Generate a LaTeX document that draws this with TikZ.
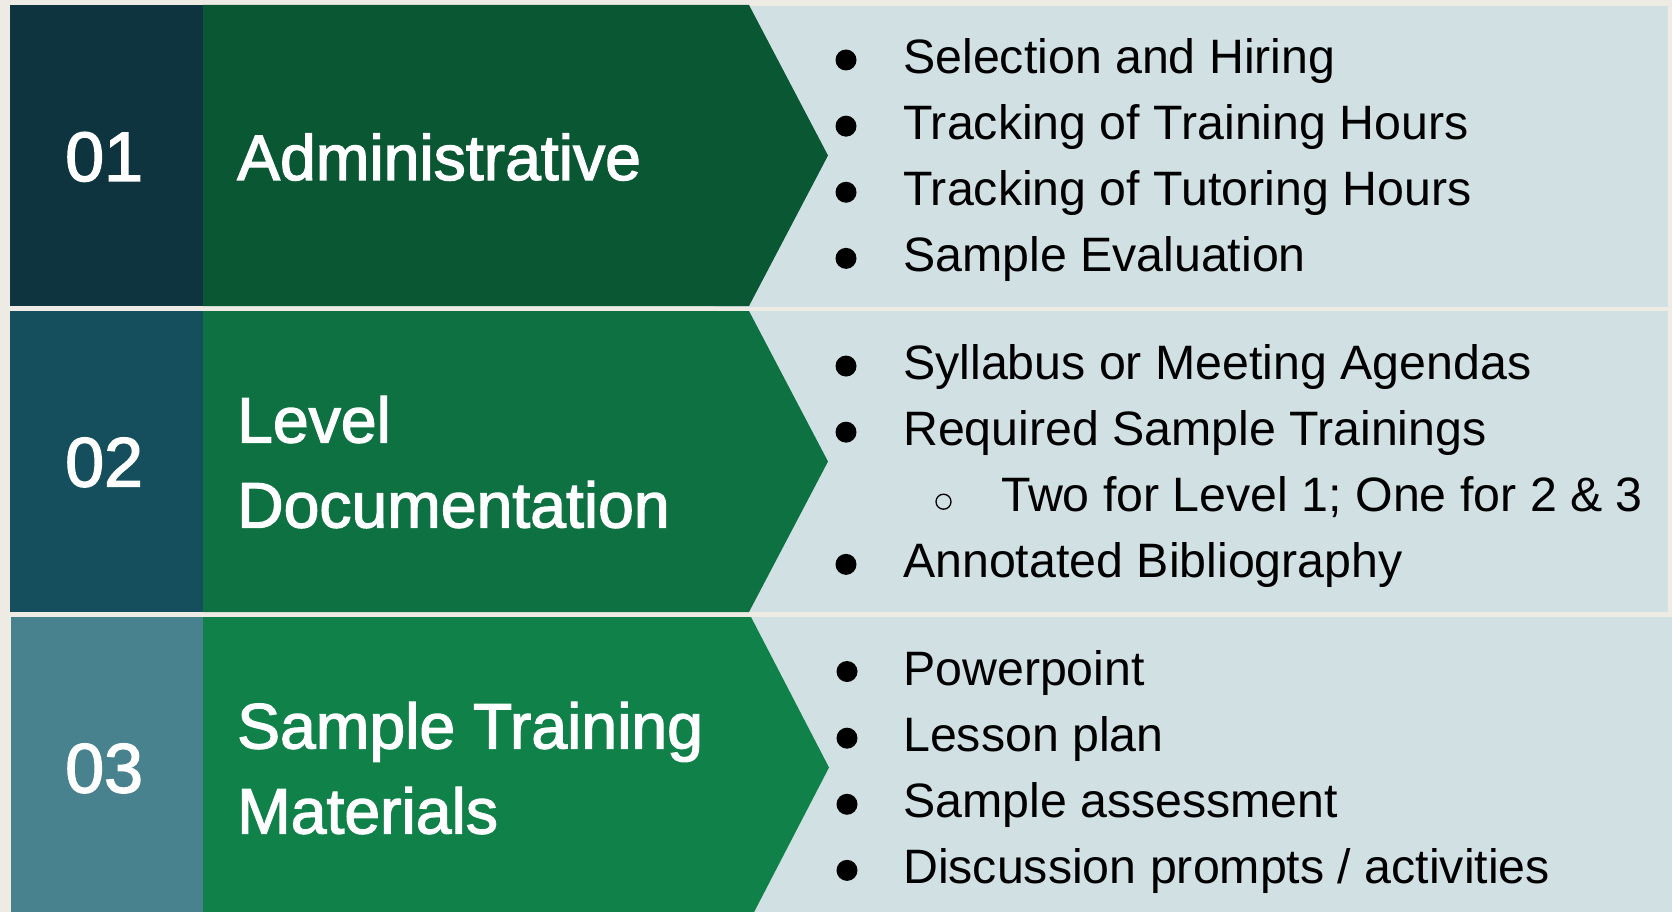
\documentclass[tikz,border=0pt]{standalone}
\usepackage{fontspec}
\setmainfont{Liberation Sans}
\newfontfamily\headfont[RawFeature={embolden=2}]{Liberation Sans}
\definecolor{bgbeige}{HTML}{EEEBE5}
\definecolor{numA}{HTML}{0E3440}
\definecolor{numB}{HTML}{154F5E}
\definecolor{numC}{HTML}{47828E}
\definecolor{grnA}{HTML}{0A5734}
\definecolor{grnB}{HTML}{0D7142}
\definecolor{grnC}{HTML}{0F8149}
\definecolor{listbg}{HTML}{D1E0E3}
\tikzset{
  numtext/.style={anchor=base west, inner sep=0pt, text=white, font=\headfont\fontsize{70}{70}\selectfont},
  headtext/.style={anchor=base west, inner sep=0pt, text=white, font=\headfont\fontsize{64.3}{85}\selectfont},
  itemtext/.style={anchor=base west, inner sep=0pt, text=black, font=\fontsize{48.3}{66}\selectfont},
  dotmark/.style={circle, fill=black, inner sep=0pt, minimum size=21pt},
  ringmark/.style={circle, draw=black, line width=1.3pt, inner sep=0pt, minimum size=15pt},
}
\begin{document}
\begin{tikzpicture}[x=1pt,y=-1pt]
\useasboundingbox[fill=bgbeige] (0,0) rectangle (1672,912);
\clip (0,0) rectangle (1672,912);

% ---- row 01 ----
\fill[listbg] (715,6) rectangle (1668,307);
\fill[numA] (10,5) rectangle (203,306);
\fill[grnA] (203,5) -- (749,5) -- (828,155.5) -- (749,306) -- (203,306) -- cycle;
\node[numtext] (n1) at (65,181) {01};
\node[headtext] (h1) at (237,180) {Administrative};
\node[dotmark] (b11) at (846,60) {};
\node[itemtext] (t11) at (903,73.05) {Selection and Hiring};
\node[dotmark] (b12) at (846,126.15) {};
\node[itemtext] (t12) at (903,139.15) {Tracking of Training Hours};
\node[dotmark] (b13) at (846,192.25) {};
\node[itemtext] (t13) at (903,205.25) {Tracking of Tutoring Hours};
\node[dotmark] (b14) at (846,258.35) {};
\node[itemtext] (t14) at (903,271.35) {Sample Evaluation};

% ---- row 02 ----
\fill[listbg] (715,311) rectangle (1668,612);
\fill[numB] (10,311) rectangle (203,612);
\fill[grnB] (203,311) -- (749,311) -- (828,461.5) -- (749,612) -- (203,612) -- cycle;
\node[numtext] (n2) at (65,486.5) {02};
\node[headtext] (h2a) at (237,442.5) {Level};
\node[headtext] (h2b) at (237,527.5) {Documentation};
\node[dotmark] (b21) at (846,366.05) {};
\node[itemtext] (t21) at (903,379.05) {Syllabus or Meeting Agendas};
\node[dotmark] (b22) at (846,432.15) {};
\node[itemtext] (t22) at (903,445.15) {Required Sample Trainings};
\node[ringmark] (b23) at (943.5,501.7) {};
\node[itemtext] (t23) at (1001,511.25) {Two for Level 1; One for 2 \& 3};
\node[dotmark] (b24) at (846,564.35) {};
\node[itemtext] (t24) at (903,577.35) {Annotated Bibliography};

% ---- row 03 ----
\fill[listbg] (715,617) rectangle (1672,918);
\fill[numC] (11,617) rectangle (203,918);
\fill[grnC] (203,617) -- (751,617) -- (829,767.5) -- (751,918) -- (203,918) -- cycle;
\node[numtext] (n3) at (65,792.5) {03};
\node[headtext] (h3a) at (237,748.5) {Sample Training};
\node[headtext] (h3b) at (237,833.5) {Materials};
\node[dotmark] (b31) at (847,671.5) {};
\node[itemtext] (t31) at (903,685.05) {Powerpoint};
\node[dotmark] (b32) at (847,738.15) {};
\node[itemtext] (t32) at (903,751.15) {Lesson plan};
\node[dotmark] (b33) at (847,804.25) {};
\node[itemtext] (t33) at (903,817.25) {Sample assessment};
\node[dotmark] (b34) at (847,870.35) {};
\node[itemtext] (t34) at (903,883.35) {Discussion prompts / activities};
\end{tikzpicture}
\end{document}
